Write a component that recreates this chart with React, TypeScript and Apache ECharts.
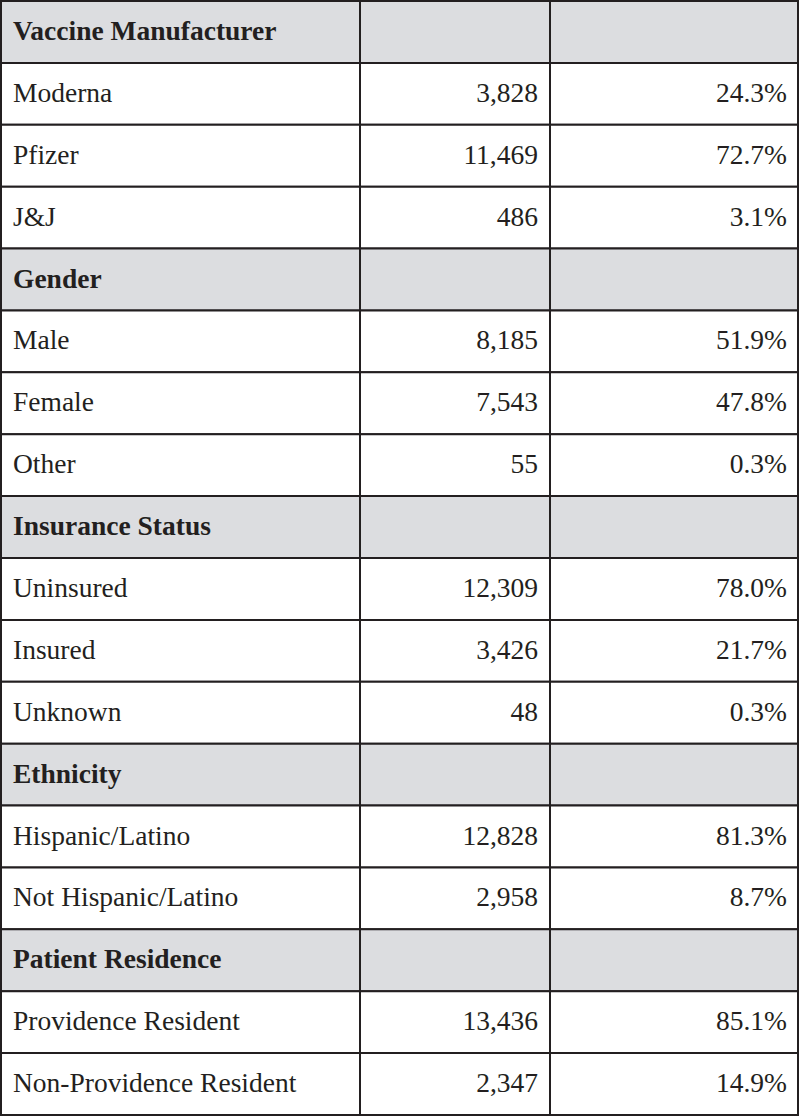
import React, { useEffect, useRef } from "react";
import * as echarts from "echarts";

const groupTitles = ["Vaccine Manufacturer", "Gender", "Insurance Status", "Ethnicity", "Patient Residence"];

const manufacturerLabels = ["Moderna", "Pfizer", "J&J"];
const manufacturerCounts = [3828, 11469, 486];
const manufacturerPercents = [24.3, 72.7, 3.1];

const genderLabels = ["Male", "Female", "Other"];
const genderCounts = [8185, 7543, 55];
const genderPercents = [51.9, 47.8, 0.3];

const insuranceLabels = ["Uninsured", "Insured", "Unknown"];
const insuranceCounts = [12309, 3426, 48];
const insurancePercents = [78.0, 21.7, 0.3];

const ethnicityLabels = ["Hispanic/Latino", "Not Hispanic/Latino"];
const ethnicityCounts = [12828, 2958];
const ethnicityPercents = [81.3, 8.7];

const residenceLabels = ["Providence Resident", "Non-Providence Resident"];
const residenceCounts = [13436, 2347];
const residencePercents = [85.1, 14.9];

const groupLabels = [manufacturerLabels, genderLabels, insuranceLabels, ethnicityLabels, residenceLabels];
const groupCounts = [manufacturerCounts, genderCounts, insuranceCounts, ethnicityCounts, residenceCounts];
const groupPercents = [manufacturerPercents, genderPercents, insurancePercents, ethnicityPercents, residencePercents];

type Row = { header: boolean; label: string; count: string; pct: string };

const rows: Row[] = [];
groupTitles.forEach((t, g) => {
  rows.push({ header: true, label: t, count: "", pct: "" });
  groupLabels[g].forEach((l, k) => {
    rows.push({
      header: false,
      label: l,
      count: groupCounts[g][k].toLocaleString("en-US"),
      pct: groupPercents[g][k].toFixed(1) + "%",
    });
  });
});

const COLS = [0, 359, 549, 797];
const INK = "#231f20";
const HEAD_FILL = "#dcdde0";
const FONT = "Liberation Serif";
const SIZE = 27.5;

export default function App() {
  const ref = useRef<HTMLDivElement>(null);
  useEffect(() => {
    if (!ref.current) return;
    const chart = echarts.init(ref.current, undefined, { renderer: "svg" });
    chart.setOption({
      animation: false,
      grid: { left: 1, top: 1, right: 2, bottom: 1 },
      xAxis: { type: "value", min: 0, max: 797, show: false },
      yAxis: { type: "value", min: 0, max: rows.length, inverse: true, show: false },
      series: [
        {
          type: "custom",
          clip: false,
          data: rows.map((_, i) => [0, i]),
          renderItem: (params: any, api: any) => {
            const i = api.value(1);
            const r = rows[i];
            const y0 = api.coord([0, i])[1];
            const y1 = api.coord([0, i + 1])[1];
            const xs = COLS.map((c) => api.coord([c, 0])[0]);
            const mid = (y0 + y1) / 2 - 1.5;
            const children: any[] = [];
            for (let c = 0; c < 3; c++) {
              children.push({
                type: "rect",
                shape: { x: xs[c], y: y0, width: xs[c + 1] - xs[c], height: y1 - y0 },
                style: { fill: r.header ? HEAD_FILL : "#ffffff", stroke: INK, lineWidth: 2 },
              });
            }
            children.push({
              type: "text",
              x: xs[0] + 12,
              y: mid,
              style: {
                text: r.label,
                fill: INK,
                font: (r.header ? "bold " : "") + SIZE + "px '" + FONT + "'",
                align: "left",
                verticalAlign: "middle",
              },
            });
            if (!r.header) {
              children.push({
                type: "text",
                x: xs[2] - 12,
                y: mid,
                style: { text: r.count, fill: INK, font: SIZE + "px '" + FONT + "'", align: "right", verticalAlign: "middle" },
              });
              children.push({
                type: "text",
                x: xs[3] - 11,
                y: mid,
                style: { text: r.pct, fill: INK, font: SIZE + "px '" + FONT + "'", align: "right", verticalAlign: "middle" },
              });
            }
            return { type: "group", children };
          },
        },
      ],
    });
    return () => chart.dispose();
  }, []);
  return (
    <div
      ref={ref}
      style={{ position: "absolute", left: 0, top: 0, width: 800, height: 1116, background: "#ffffff" }}
    />
  );
}
